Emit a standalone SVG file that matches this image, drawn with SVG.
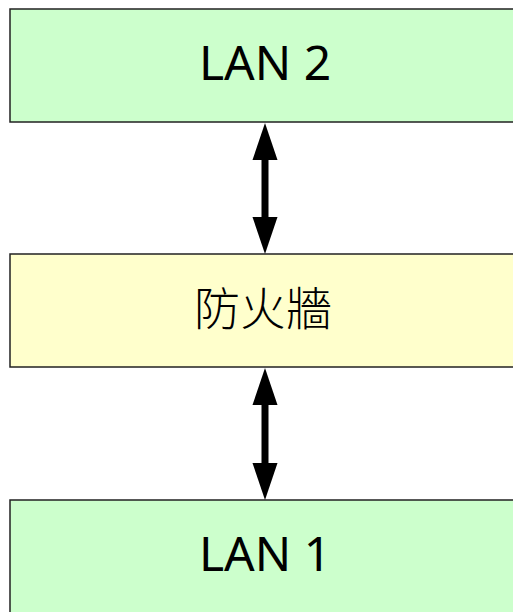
<svg xmlns="http://www.w3.org/2000/svg" width="513" height="612" viewBox="0 0 513 612">
<style>
.box{stroke:#222;stroke-width:1.5}
.lan{fill:#ccffcc}
.fw{fill:#ffffcc}
.t{font-family:"Noto Sans","Noto Sans CJK TC",sans-serif;font-size:48px;fill:#000;text-anchor:middle}
.cjk{font-family:"Noto Sans CJK TC",sans-serif;font-size:46px;font-weight:300}
.c{stroke:#000;stroke-width:7;fill:none}
.h{fill:#000}
</style>
<rect width="513" height="612" fill="#fff"/>
<g id="lan2"><rect class="box lan" x="10" y="9" width="510" height="113"/><text class="t" x="265" y="80">LAN 2</text></g>
<g id="firewall"><rect class="box fw" x="10" y="254" width="510" height="113"/><text class="t cjk" x="263" y="325">防火牆</text></g>
<g id="lan1"><rect class="box lan" x="10" y="500" width="510" height="120"/><text class="t" x="265" y="571">LAN 1</text></g>
<g id="connectors">
<line class="c" x1="265" y1="155" x2="265" y2="222"/>
<polygon class="h" points="265,123 252.5,160 277.5,160"/>
<polygon class="h" points="265,254 252.5,217 277.5,217"/>
<line class="c" x1="265" y1="400" x2="265" y2="467"/>
<polygon class="h" points="265,368 252.5,405 277.5,405"/>
<polygon class="h" points="265,500 252.5,463 277.5,463"/>
</g>
</svg>
